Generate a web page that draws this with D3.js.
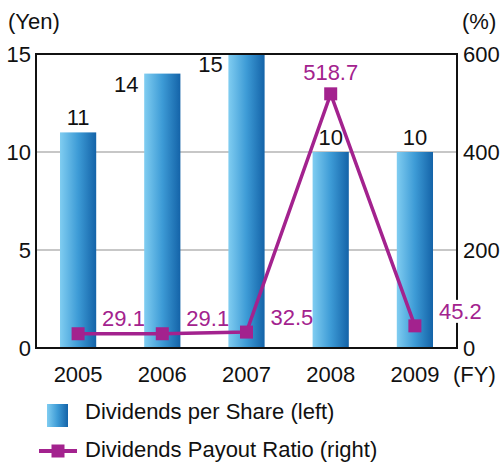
<!DOCTYPE html>
<html>
<head>
<meta charset="utf-8">
<script src="https://cdn.jsdelivr.net/npm/d3@7"></script>
<style>
  html, body { margin: 0; padding: 0; background: #fff; }
  svg { display: block; font-family: Arial, "Liberation Sans", sans-serif; }
</style>
</head>
<body>
<svg id="chart" width="500" height="466"></svg>
<script>
const years = ["2005", "2006", "2007", "2008", "2009"];
const dividends = [11, 14, 15, 10, 10];
const payoutRatio = [29.1, 29.1, 32.5, 518.7, 45.2];
const leftTicks = [0, 5, 10, 15];
const rightTicks = [0, 200, 400, 600];
const legendLabels = ["Dividends per Share (left)", "Dividends Payout Ratio (right)"];

const svg = d3.select("#chart");
const m = { left: 36, right: 457, top: 54, bottom: 348 };
const purple = "#a3228e";
const FS = 22;

const x = d3.scaleBand().domain(years).range([m.left, m.right]).paddingInner(0.57).paddingOuter(0.285);
const yL = d3.scaleLinear().domain([0, 15]).range([m.bottom, m.top]);
const yR = d3.scaleLinear().domain([0, 600]).range([m.bottom, m.top]);

const defs = svg.append("defs");
const grad = defs.append("linearGradient").attr("id", "barGrad").attr("x1", "0").attr("x2", "1").attr("y1", "0").attr("y2", "0");
grad.append("stop").attr("offset", "0%").attr("stop-color", "#80cdf1");
grad.append("stop").attr("offset", "50%").attr("stop-color", "#3d9bd6");
grad.append("stop").attr("offset", "100%").attr("stop-color", "#1463a8");

// gridlines
svg.append("g").selectAll("line").data(leftTicks.filter(t => t > 0 && t < 15)).join("line")
  .attr("x1", m.left).attr("x2", m.right)
  .attr("y1", d => yL(d)).attr("y2", d => yL(d))
  .attr("stroke", "#b4b4b4").attr("stroke-width", 1.5);

// bars
svg.append("g").selectAll("rect").data(years).join("rect")
  .attr("x", d => x(d)).attr("width", x.bandwidth())
  .attr("y", (d, i) => yL(dividends[i])).attr("height", (d, i) => yL(0) - yL(dividends[i]))
  .attr("fill", "url(#barGrad)");

// frame
svg.append("rect").attr("x", m.left).attr("y", m.top)
  .attr("width", m.right - m.left).attr("height", m.bottom - m.top)
  .attr("fill", "none").attr("stroke", "#111").attr("stroke-width", 2);

// axes
const axL = svg.append("g").attr("transform", `translate(${m.left},0)`)
  .call(d3.axisLeft(yL).tickValues(leftTicks).tickSize(0).tickPadding(5));
const axR = svg.append("g").attr("transform", `translate(${m.right},0)`)
  .call(d3.axisRight(yR).tickValues(rightTicks).tickSize(0).tickPadding(6));
const axB = svg.append("g").attr("transform", `translate(0,${m.bottom})`)
  .call(d3.axisBottom(x).tickSize(0).tickPadding(18));
[axL, axR, axB].forEach(a => {
  a.select(".domain").remove();
  a.selectAll("text").attr("font-size", FS).attr("fill", "#111").attr("font-family", "Arial, 'Liberation Sans', sans-serif");
});

// unit labels
svg.append("text").attr("x", 8).attr("y", 29).attr("font-size", FS).attr("fill", "#111").text("(Yen)");
svg.append("text").attr("x", 462).attr("y", 29).attr("font-size", FS).attr("fill", "#111").text("(%)");
svg.append("text").attr("x", 453).attr("y", 382).attr("font-size", FS).attr("fill", "#111").text("(FY)");

// bar value labels
svg.append("g").selectAll("text").data(years).join("text")
  .attr("x", (d, i) => {
    const cx = x(d) + x.bandwidth() / 2;
    return yL(dividends[i]) - m.top < 30 ? x(d) - 18 : cx;
  })
  .attr("y", (d, i) => {
    const top = yL(dividends[i]);
    return top - m.top < 30 ? top + 18 : top - 7;
  })
  .attr("text-anchor", "middle").attr("font-size", FS).attr("fill", "#111")
  .text((d, i) => dividends[i]);

// payout line
const line = d3.line().x(d => x(d[0]) + x.bandwidth() / 2).y(d => yR(d[1]));
const pts = years.map((y, i) => [y, payoutRatio[i]]);
svg.append("path").datum(pts).attr("d", line)
  .attr("fill", "none").attr("stroke", purple).attr("stroke-width", 3.5);
svg.append("g").selectAll("rect").data(pts).join("rect")
  .attr("x", d => x(d[0]) + x.bandwidth() / 2 - 6.5).attr("y", d => yR(d[1]) - 6.5)
  .attr("width", 13).attr("height", 13).attr("fill", purple);

// payout labels
const pl = svg.append("g").selectAll("g").data(pts).join("g")
  .attr("transform", (d, i) => {
    const cx = x(d[0]) + x.bandwidth() / 2;
    const cy = yR(d[1]);
    if (d[1] > 300) return `translate(${cx},${cy - 14})`;
    return `translate(${cx + 24},${Math.min(cy - 7, 326)})`;
  });
pl.append("text")
  .attr("text-anchor", d => d[1] > 300 ? "middle" : "start")
  .attr("font-size", FS).attr("fill", purple)
  .text(d => d[1].toFixed(1));
pl.each(function(d) {
  const g = d3.select(this);
  if (d[1] > 300) return;
  const bb = g.select("text").node().getBBox();
  g.insert("rect", "text").attr("x", bb.x + 1).attr("y", bb.y + 1).attr("width", bb.width - 3).attr("height", bb.height - 2).attr("fill", "#fff");
});

// legend
const lg = svg.append("g");
lg.append("rect").attr("x", 47).attr("y", 404).attr("width", 21).attr("height", 23).attr("fill", "url(#barGrad)");
lg.append("text").attr("x", 85).attr("y", 419).attr("font-size", FS).attr("fill", "#111").text(legendLabels[0]);
lg.append("line").attr("x1", 39).attr("x2", 77).attr("y1", 451).attr("y2", 451).attr("stroke", purple).attr("stroke-width", 4);
lg.append("rect").attr("x", 51.5).attr("y", 444.5).attr("width", 13).attr("height", 13).attr("fill", purple);
lg.append("text").attr("x", 85).attr("y", 457).attr("font-size", FS).attr("fill", "#111").text(legendLabels[1]);
</script>
</body>
</html>
